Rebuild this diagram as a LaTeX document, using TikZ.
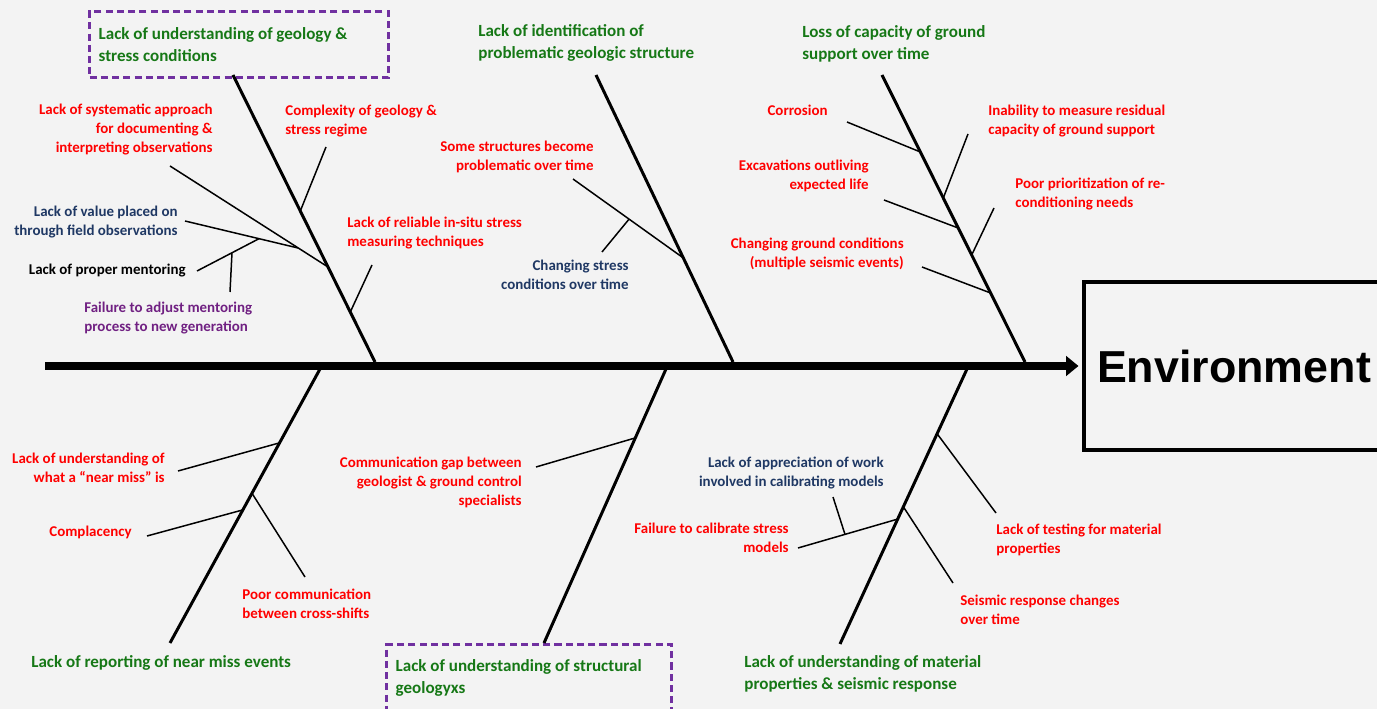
\documentclass[tikz,border=0pt]{standalone}
\usepackage{fontspec}
\setmainfont{Carlito}
\newfontfamily\envfont{Liberation Sans}
\usetikzlibrary{arrows.meta}

\definecolor{causered}{RGB}{255,0,0}
\definecolor{headgreen}{RGB}{22,120,22}
\definecolor{navy}{RGB}{31,56,100}
\definecolor{plum}{RGB}{112,32,130}
\definecolor{boxpurple}{RGB}{112,48,160}
\definecolor{bggray}{RGB}{243,243,243}

\tikzstyle{cause} = [inner sep=0pt, font=\fontsize{8.5}{10.8}\selectfont\bfseries, text=causered]
\tikzstyle{causeR} = [cause, anchor=north east, align=right]
\tikzstyle{causeL} = [cause, anchor=north west, align=left]
\tikzstyle{head} = [inner sep=0pt, anchor=north west, align=left, font=\fontsize{9.7}{12.5}\selectfont\bfseries, text=headgreen]
\tikzstyle{headbox} = [head, align=flush left, draw=boxpurple, line width=1.9pt, dash pattern=on 4pt off 2.4pt, inner xsep=0.18cm, minimum height=1.32cm]
\tikzstyle{envbox} = [draw=black, line width=2.4pt, anchor=west, minimum height=3.36cm, text width=7.5cm, inner xsep=0.26cm, align=flush left, font=\envfont\fontsize{25.5}{28}\selectfont\bfseries]
\tikzstyle{spine} = [line width=4.5pt, -{Triangle[length=7pt,width=11pt]}, shorten >=2pt]
\tikzstyle{bone} = [line width=1.7pt]
\tikzstyle{twig} = [line width=0.85pt]

\begin{document}
\begin{tikzpicture}[x=0.02cm, y=-0.02cm]
  \clip (0,0) rectangle (1377,709);
  \fill [bggray] (0,0) rectangle (1377,709);

  \node (env) [envbox] at (1082,366) {Environment};
  \coordinate (tail) at (45,366);
  \draw [spine] (tail) -- (env.west);

  % upper bones
  \node (head1) [headbox, text width=5.62cm] at (88,10) {Lack of understanding of geology \&\\stress conditions};
  \node (head2) [head] at (478,24.5) {Lack of identification of\\problematic geologic structure};
  \node (head3) [head] at (802,25.5) {Loss of capacity of ground\\support over time};

  \coordinate (b1top) at (233,75);
  \coordinate (b1foot) at (375,362);
  \coordinate (b2top) at (596,75);
  \coordinate (b2foot) at (733,362);
  \coordinate (b3top) at (882,75);
  \coordinate (b3foot) at (1025,362);
  \draw [bone] (b1top) -- (b1foot);
  \draw [bone] (b2top) -- (b2foot);
  \draw [bone] (b3top) -- (b3foot);

  \node (sys) [causeR] at (213,104) {Lack of systematic approach\\for documenting \&\\interpreting observations};
  \node (value) [causeR, text=navy] at (178,206) {Lack of value placed on\\through field observations};
  \node (mentor) [causeR, text=black] at (186,264) {Lack of proper mentoring};
  \node (adjust) [causeL, text=plum] at (84,302) {Failure to adjust mentoring\\process to new generation};
  \node (complex) [causeL] at (285,105) {Complexity of geology \&\\stress regime};
  \node (reliable) [causeL] at (347,217) {Lack of reliable in-situ stress\\measuring techniques};

  \coordinate (sysend) at (170,166);   \coordinate (sysjoin) at (328,267);
  \coordinate (valueend) at (185,221); \coordinate (valuejoin) at (298,248);
  \coordinate (mentorend) at (197,271); \coordinate (mentorjoin) at (259,238.7);
  \coordinate (adjustend) at (230,292); \coordinate (adjustjoin) at (232,252.8);
  \coordinate (complexend) at (326,147); \coordinate (complexjoin) at (300.3,211);
  \coordinate (reliableend) at (372,265); \coordinate (reliablejoin) at (350.3,312);
  \draw [twig] (sysend) -- (sysjoin);
  \draw [twig] (valueend) -- (valuejoin);
  \draw [twig] (mentorend) -- (mentorjoin);
  \draw [twig] (adjustend) -- (adjustjoin);
  \draw [twig] (complexend) -- (complexjoin);
  \draw [twig] (reliableend) -- (reliablejoin);

  \node (some) [causeR] at (594,141) {Some structures become\\problematic over time};
  \node (stress) [causeR, text=navy] at (629,260) {Changing stress\\conditions over time};

  \coordinate (someend) at (573,179);   \coordinate (somejoin) at (683.4,258);
  \coordinate (stressend) at (602,252); \coordinate (stressjoin) at (629,219.2);
  \draw [twig] (someend) -- (somejoin);
  \draw [twig] (stressend) -- (stressjoin);

  \node (corrosion) [causeR] at (828,105) {Corrosion};
  \node (excav) [causeR] at (869,160) {Excavations outliving\\expected life};
  \node (ground) [causeR] at (904,238) {Changing ground conditions\\(multiple seismic events)};
  \node (inability) [causeL] at (988,105) {Inability to measure residual\\capacity of ground support};
  \node (prior) [causeL] at (1015,178) {Poor prioritization of re-\\conditioning needs};

  \coordinate (corrosionend) at (847,122); \coordinate (corrosionjoin) at (920.4,152);
  \coordinate (excavend) at (884,200);     \coordinate (excavjoin) at (958.2,228);
  \coordinate (groundend) at (922,267);    \coordinate (groundjoin) at (990.6,293);
  \coordinate (inabilityend) at (968,134); \coordinate (inabilityjoin) at (943.3,198);
  \coordinate (priorend) at (994,208);     \coordinate (priorjoin) at (971.7,255);
  \draw [twig] (corrosionend) -- (corrosionjoin);
  \draw [twig] (excavend) -- (excavjoin);
  \draw [twig] (groundend) -- (groundjoin);
  \draw [twig] (inabilityend) -- (inabilityjoin);
  \draw [twig] (priorend) -- (priorjoin);

  % lower bones
  \node (head4) [head] at (31,655.5) {Lack of reporting of near miss events};
  \node (head5) [headbox, text width=5.34cm] at (385,643) {Lack of understanding of structural\\geologyxs};
  \node (head6) [head] at (744,655.5) {Lack of understanding of material\\properties \& seismic response};

  \coordinate (b4top) at (320,369);
  \coordinate (b4foot) at (170,643);
  \coordinate (b5top) at (666,369);
  \coordinate (b5foot) at (544,643);
  \coordinate (b6top) at (967,369);
  \coordinate (b6foot) at (840,644);
  \draw [bone] (b4top) -- (b4foot);
  \draw [bone] (b5top) -- (b5foot);
  \draw [bone] (b6top) -- (b6foot);

  \node (nearmiss) [causeR] at (165,453) {Lack of understanding of\\what a “near miss” is};
  \node (compl) [causeR] at (132,526) {Complacency};
  \node (poorcomm) [causeL] at (242,589) {Poor communication\\between cross-shifts};

  \coordinate (nearmissend) at (178,471); \coordinate (nearmissjoin) at (279,443);
  \coordinate (complend) at (147,536);    \coordinate (compljoin) at (242.5,510);
  \coordinate (poorcommend) at (305,577); \coordinate (poorcommjoin) at (251.8,493);
  \draw [twig] (nearmissend) -- (nearmissjoin);
  \draw [twig] (complend) -- (compljoin);
  \draw [twig] (poorcommend) -- (poorcommjoin);

  \node (gap) [causeR] at (522,457) {Communication gap between\\geologist \& ground control\\specialists};

  \coordinate (gapend) at (536,467); \coordinate (gapjoin) at (635,438);
  \draw [twig] (gapend) -- (gapjoin);

  \node (apprec) [causeR, text=navy] at (884,457) {Lack of appreciation of work\\involved in calibrating models};
  \node (calib) [causeR] at (789,523) {Failure to calibrate stress\\models};
  \node (testing) [causeL] at (996,524) {Lack of testing for material\\properties};
  \node (seismic) [causeL] at (960,595) {Seismic response changes\\over time};

  \coordinate (testingend) at (996,513); \coordinate (testingjoin) at (937.3,434);
  \coordinate (seismicend) at (953,583); \coordinate (seismicjoin) at (903.5,507);
  \coordinate (calibend) at (798,548);   \coordinate (calibjoin) at (898,519);
  \coordinate (apprecend) at (833,497);  \coordinate (apprecjoin) at (845,534.4);
  \draw [twig] (testingend) -- (testingjoin);
  \draw [twig] (seismicend) -- (seismicjoin);
  \draw [twig] (calibend) -- (calibjoin);
  \draw [twig] (apprecend) -- (apprecjoin);
\end{tikzpicture}
\end{document}
